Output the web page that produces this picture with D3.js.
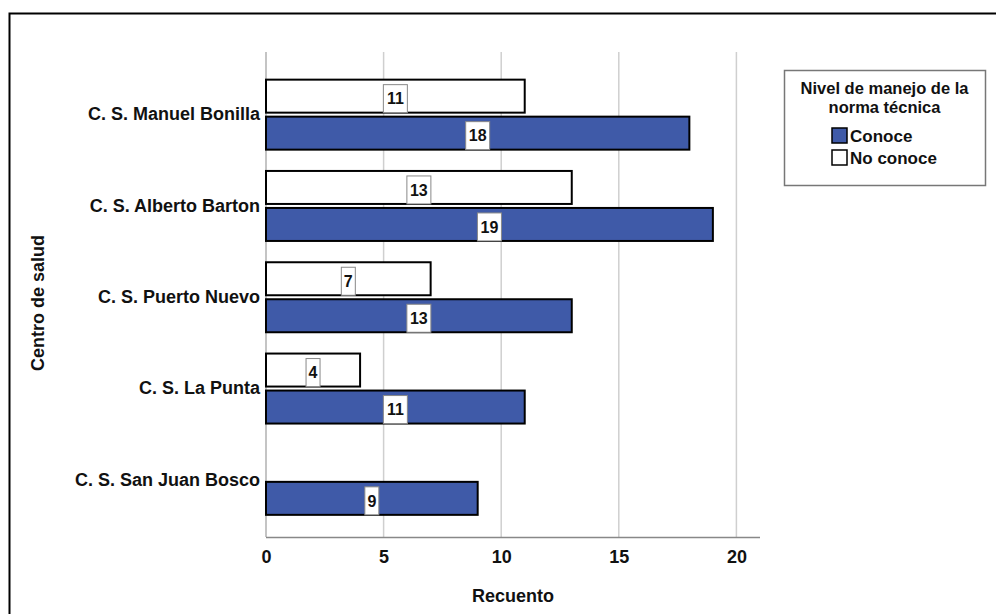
<!DOCTYPE html>
<html>
<head>
<meta charset="utf-8">
<script src="https://cdn.jsdelivr.net/npm/d3@7"></script>
<style>
  html, body { margin: 0; padding: 0; background: #fff; }
  svg { display: block; font-family: "Liberation Sans", Arial, sans-serif; }
</style>
</head>
<body>
<svg id="chart" width="996" height="614"></svg>
<script>
// Health centres and counts per knowledge level
const centros = ["C. S. Manuel Bonilla", "C. S. Alberto Barton", "C. S. Puerto Nuevo", "C. S. La Punta", "C. S. San Juan Bosco"];
const conoce = [18, 19, 13, 11, 9];
const noConoce = [11, 13, 7, 4, null];
const xTicks = [0, 5, 10, 15, 20];
const seriesNames = ["Conoce", "No conoce"];
const legendTitle = ["Nivel de manejo de la", "norma técnica"];

const FONT = "Liberation Sans, Arial, sans-serif";
const INK = "#111";
const svg = d3.select("#chart");

// outer frame (top and left edges)
svg.append("path")
  .attr("d", "M9.5,614 L9.5,13.5 L996,13.5")
  .attr("fill", "none").attr("stroke", "#000").attr("stroke-width", 2);

const plot = { left: 266, right: 760, top: 52, bottom: 537 };

const x = d3.scaleLinear().domain([0, 21]).range([plot.left, plot.left + 21 * 23.52]);
const y = d3.scaleBand().domain(centros).range([69, 525.5]);

const g = svg.append("g");

// vertical gridlines
g.selectAll("line.grid").data(xTicks.filter(d => d > 0)).join("line")
  .attr("class", "grid")
  .attr("x1", d => x(d)).attr("x2", d => x(d))
  .attr("y1", plot.top).attr("y2", plot.bottom)
  .attr("stroke", "#cfcfcf").attr("stroke-width", 1.5);

// left axis line
g.append("line").attr("x1", plot.left).attr("x2", plot.left)
  .attr("y1", plot.top).attr("y2", plot.bottom)
  .attr("stroke", "#b0b0b0").attr("stroke-width", 1.5);

// bottom axis
const xAxis = d3.axisBottom(x).tickValues(xTicks).tickSize(0).tickPadding(13);
const ax = svg.append("g").attr("transform", `translate(0,${plot.bottom})`).call(xAxis);
ax.select(".domain").attr("d", `M${plot.left},0.5H${plot.right}`).attr("stroke", "#888").attr("stroke-width", 1.5);
ax.selectAll("text").attr("font-size", 18).attr("font-weight", "bold")
  .attr("font-family", FONT).attr("fill", INK);

// category labels
const yAxis = d3.axisLeft(y).tickSize(0).tickPadding(6);
const ay = svg.append("g").attr("transform", `translate(${plot.left},0)`).call(yAxis);
ay.select(".domain").remove();
ay.selectAll("text").attr("font-size", 18).attr("font-weight", "bold")
  .attr("font-family", FONT).attr("fill", INK);

const blue = "#3f5aa8";
const barH = 33, gap = 4;

function drawSeries(values, fill, offset) {
  const data = centros.map((c, i) => ({ c, v: values[i] })).filter(d => d.v != null);
  const grp = svg.append("g");
  grp.selectAll("rect.bar").data(data).join("rect")
    .attr("class", "bar")
    .attr("x", x(0)).attr("width", d => x(d.v) - x(0))
    .attr("y", d => y(d.c) + y.bandwidth() / 2 + offset)
    .attr("height", barH)
    .attr("fill", fill).attr("stroke", "#000").attr("stroke-width", 2);
  // value boxes centred on the bar midpoint
  const lab = grp.selectAll("g.lab").data(data).join("g").attr("class", "lab");
  lab.append("rect")
    .attr("x", d => x(d.v / 2) - (String(d.v).length > 1 ? 12 : 7))
    .attr("width", d => String(d.v).length > 1 ? 24 : 14)
    .attr("y", d => y(d.c) + y.bandwidth() / 2 + offset + 5)
    .attr("height", barH - 5)
    .attr("fill", "#fff").attr("stroke", "#888").attr("stroke-width", 1);
  lab.append("text")
    .attr("x", d => x(d.v / 2))
    .attr("y", d => y(d.c) + y.bandwidth() / 2 + offset + 5 + (barH - 5) / 2)
    .attr("dy", "0.36em")
    .attr("text-anchor", "middle")
    .attr("font-size", 16).attr("font-weight", "bold").attr("fill", INK)
    .text(d => d.v);
}

drawSeries(noConoce, "#fff", -barH - gap / 2);
drawSeries(conoce, blue, gap / 2);

// axis titles
svg.append("text").attr("x", 513).attr("y", 602)
  .attr("text-anchor", "middle").attr("font-size", 18).attr("font-weight", "bold").attr("fill", INK)
  .text("Recuento");
svg.append("text").attr("transform", `translate(44,303) rotate(-90)`)
  .attr("text-anchor", "middle").attr("font-size", 18).attr("font-weight", "bold").attr("fill", INK)
  .text("Centro de salud");

// legend
const lg = svg.append("g");
lg.append("rect").attr("x", 784.5).attr("y", 70.5).attr("width", 201).attr("height", 115)
  .attr("fill", "#fff").attr("stroke", "#777").attr("stroke-width", 1.5);
lg.selectAll("text.t").data(legendTitle).join("text").attr("class", "t")
  .attr("x", 884.5).attr("y", (d, i) => 94 + i * 19)
  .attr("text-anchor", "middle").attr("font-size", 16.5).attr("font-weight", "bold").attr("fill", INK)
  .text(d => d);
const items = lg.selectAll("g.item").data(seriesNames).join("g").attr("class", "item")
  .attr("transform", (d, i) => `translate(832,${128 + i * 22})`);
items.append("rect").attr("width", 15).attr("height", 15)
  .attr("fill", (d, i) => i === 0 ? blue : "#fff").attr("stroke", "#000").attr("stroke-width", 1.5);
items.append("text").attr("x", 18).attr("y", 8).attr("dy", "0.36em")
  .attr("font-size", 17).attr("font-weight", "bold").attr("fill", INK)
  .text(d => d);
</script>
</body>
</html>
